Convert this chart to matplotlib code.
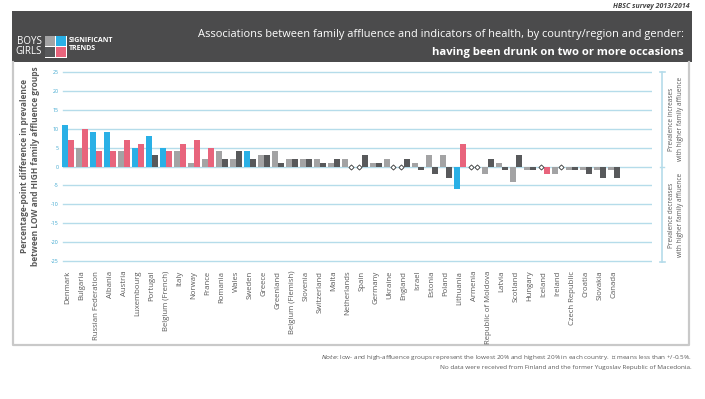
import matplotlib
matplotlib.use("Agg")
import matplotlib.pyplot as plt
from matplotlib.patches import Rectangle
import numpy as np

plt.rcParams['font.family'] = ['Open Sans', 'DejaVu Sans']
FAM = ['Open Sans', 'DejaVu Sans']

countries = ["Denmark", "Bulgaria", "Russian Federation", "Albania", "Austria", "Luxembourg",
             "Portugal", "Belgium (French)", "Italy", "Norway", "France", "Romania", "Wales",
             "Sweden", "Greece", "Greenland", "Belgium (Flemish)", "Slovenia", "Switzerland",
             "Malta", "Netherlands", "Spain", "Germany", "Ukraine", "England", "Israel",
             "Estonia", "Poland", "Lithuania", "Armenia", "Republic of Moldova", "Latvia",
             "Scotland", "Hungary", "Iceland", "Ireland", "Czech Republic", "Croatia",
             "Slovakia", "Canada"]
boys = [11, 5, 9, 9, 4, 5, 8, 5, 4, 1, 2, 4, 2, 4, 3, 4, 2, 2, 2, 1, 2, 0, 1, 2, 0, 1,
        3, 3, -6, 0, -2, 1, -4, -1, 0, -2, -1, -1, -1, -1]
girls = [7, 10, 4, 4, 7, 6, 3, 4, 6, 7, 5, 2, 4, 2, 3, 1, 2, 2, 1, 2, 0, 3, 1, 0, 2, -1,
         -2, -3, 6, 0, 2, -1, 3, -1, -2, 0, -1, -2, -3, -3]
boys_sig = [1, 0, 1, 1, 0, 1, 1, 1, 0, 0, 0, 0, 0, 1, 0, 0, 0, 0, 0, 0, 0, 0, 0, 0, 0, 0,
            0, 0, 1, 0, 0, 0, 0, 0, 0, 0, 0, 0, 0, 0]
girls_sig = [1, 1, 1, 1, 1, 1, 0, 1, 1, 1, 1, 0, 0, 0, 0, 0, 0, 0, 0, 0, 0, 0, 0, 0, 0, 0,
             0, 0, 1, 0, 0, 0, 0, 0, 1, 0, 0, 0, 0, 0]
yticks = [-25, -20, -15, -10, -5, 0, 5, 10, 15, 20, 25]

CYAN = "#29b0e6"
PINK = "#e8647c"
LGREY = "#a3a3a4"
DGREY = "#58595b"
GRID = "#b5dcea"
HEADER = "#4b4b4c"
BORDER = "#c9c9c9"
TXT = "#5a5a5a"

W, H = 705, 399
fig = plt.figure(figsize=(W / 100, H / 100), dpi=100)

def fx(px):
    return px / W

def fy(py):
    return 1 - py / H

deco = fig.add_axes([0, 0, 1, 1])
deco.set_xlim(0, W)
deco.set_ylim(H, 0)
deco.axis('off')
deco.add_patch(Rectangle((12, 11), 680, 51, facecolor=HEADER, lw=0))
deco.plot([13, 13, 689, 689], [62, 345, 345, 62], color=BORDER, lw=1.6)
deco.text(690, 6, "HBSC survey 2013/2014", ha='right', va='center', fontsize=5,
          style='italic', fontweight='bold', color="#444444")
deco.text(42, 41, "BOYS", ha='right', va='center', fontsize=7, color="white")
deco.text(42, 52, "GIRLS", ha='right', va='center', fontsize=7, color="white")
sq = 10
deco.add_patch(Rectangle((44.5, 35.5), 2 * sq + 2, 2 * sq + 2, facecolor='white', lw=0))
deco.add_patch(Rectangle((45, 36), sq, sq, facecolor=LGREY, lw=0))
deco.add_patch(Rectangle((56, 36), sq, sq, facecolor=CYAN, lw=0))
deco.add_patch(Rectangle((45, 47), sq, sq, facecolor=DGREY, lw=0))
deco.add_patch(Rectangle((56, 47), sq, sq, facecolor=PINK, lw=0))
deco.text(69, 41, "SIGNIFICANT", ha='left', va='center', fontsize=5, color="white", fontweight='bold')
deco.text(69, 49, "TRENDS", ha='left', va='center', fontsize=5, color="white", fontweight='bold')
deco.text(684, 35, "Associations between family affluence and indicators of health, by country/region and gender:",
          ha='right', va='center', fontsize=7.9, color="white")
deco.text(684, 52, "having been drunk on two or more occasions",
          ha='right', va='center', fontsize=8.1, color="white", fontweight='bold')

deco.text(30, 166, "Percentage-point difference in prevalence\nbetween LOW and HIGH family affluence groups",
          ha='center', va='center', rotation=90, fontsize=6.0, color=TXT, fontweight='bold',
          linespacing=1.15)

deco.plot([662, 662], [72, 262], color=GRID, lw=1.2)
for yy in (72, 262):
    deco.plot([659.5, 664.5], [yy, yy], color=GRID, lw=1.2)
deco.plot([660, 664], [167, 167], color=GRID, lw=1.0)
deco.text(676, 119, "Prevalence increases\nwith higher family affluence", rotation=90,
          ha='center', va='center', fontsize=4.7, color=TXT, linespacing=1.25)
deco.text(676, 215, "Prevalence decreases\nwith higher family affluence", rotation=90,
          ha='center', va='center', fontsize=4.7, color=TXT, linespacing=1.25)

deco.text(692, 357, "$\\it{Note}$: low- and high-affluence groups represent the lowest 20% and highest 20% in each country.  \u25C7 means less than +/-0.5%.",
          ha='right', va='center', fontsize=4.6, color=TXT, family=FAM)
deco.text(692, 367, "No data were received from Finland and the former Yugoslav Republic of Macedonia.",
          ha='right', va='center', fontsize=4.6, color=TXT)

x_left_px, x_right_px = 60, 652
y_top_px, y_bot_px = 66.5, 266.5
step = 14.0
unit = 3.78
ax = fig.add_axes([fx(x_left_px), fy(y_bot_px), fx(x_right_px - x_left_px), (y_bot_px - y_top_px) / H])
ax.set_xlim((x_left_px - 68) / step, (x_right_px - 68) / step)
ax.set_ylim((166.5 - y_bot_px) / unit, (166.5 - y_top_px) / unit)
ax.patch.set_alpha(0)
for s in ax.spines.values():
    s.set_visible(False)

x = np.arange(len(countries))
bw = 0.44
bcol = [CYAN if s else LGREY for s in boys_sig]
gcol = [PINK if s else DGREY for s in girls_sig]
bvals = np.array(boys, dtype=float)
gvals = np.array(girls, dtype=float)
ax.bar(x - bw / 2, bvals, width=bw, color=bcol, zorder=3, lw=0)
ax.bar(x + bw / 2, gvals, width=bw, color=gcol, zorder=3, lw=0)
bz = bvals == 0
gz = gvals == 0
ax.plot(x[bz] - bw / 2, bvals[bz], 'D', ms=2.6, mfc='white', mec='#333333', mew=0.6, zorder=4)
ax.plot(x[gz] + bw / 2, gvals[gz], 'D', ms=2.6, mfc='white', mec='#333333', mew=0.6, zorder=4)

for t in yticks:
    ax.axhline(t, color=GRID, lw=1.0, zorder=1, xmin=(63 - x_left_px) / (x_right_px - x_left_px))
ax.set_yticks(yticks)
ax.set_yticklabels([str(t) for t in yticks], fontsize=3.8, color="#3aa6cf")
ax.tick_params(axis='y', length=0, pad=1)
ax.set_xticks(x)
ax.set_xticklabels(countries, rotation=90, fontsize=5.6, color=TXT)
ax.tick_params(axis='x', length=0, pad=3)

fig.savefig("out.png", dpi=100)
